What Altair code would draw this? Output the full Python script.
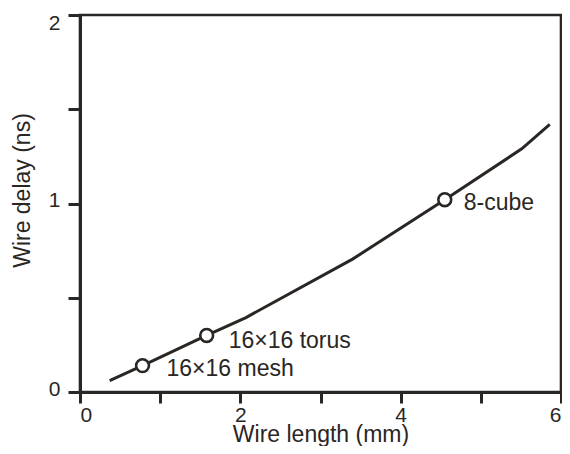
import altair as alt
import pandas as pd

# Curve: wire delay vs wire length
length_mm = [0.37, 0.78, 1.58, 2.07, 3.40, 4.55, 5.51, 5.86]
delay_ns = [0.06, 0.14, 0.30, 0.395, 0.705, 1.02, 1.29, 1.42]

# Marked networks
net_names = ["16×16 mesh", "16×16 torus", "8-cube"]
net_length = [0.78, 1.58, 4.55]
net_delay = [0.14, 0.30, 1.02]

x_ticks = [0, 1, 2, 3, 4, 5, 6]
y_ticks = [0, 0.5, 1, 1.5, 2]

INK = "#2a2624"
FONT = "Liberation Sans"

curve = pd.DataFrame({"len": length_mm, "delay": delay_ns})
nets = pd.DataFrame({"name": net_names, "len": net_length, "delay": net_delay})

x_enc = alt.X("len:Q", scale=alt.Scale(domain=[0, 6], nice=False, zero=False),
              axis=alt.Axis(title="Wire length (mm)", values=x_ticks, format="~g",
                            labelExpr="datum.value % 2 == 0 ? datum.label : ''",
                            labelFlush=True, tickSize=11, labelBaseline="alphabetic",
                            labelPadding=18, titleY=49, titleBaseline="alphabetic",
                            grid=False))
y_enc = alt.Y("delay:Q", scale=alt.Scale(domain=[0, 2], nice=False),
              axis=alt.Axis(title="Wire delay (ns)", values=y_ticks, format="~g",
                            labelExpr="datum.value % 1 == 0 ? datum.label : ''",
                            tickSize=12, labelPadding=8,
                            labelOffset={"condition": {"test": "datum.value == 2", "value": 8},
                                         "value": -3},
                            labelBaseline="middle",
                            titleX=-58, titleY=175, titleBaseline="middle",
                            titleAlign="center", grid=False))

line = alt.Chart(curve).mark_line(color=INK, strokeWidth=3).encode(x=x_enc, y=y_enc)

points = alt.Chart(nets).mark_point(shape="circle", size=165, filled=True,
                                    fill="white", stroke=INK, strokeWidth=2.6,
                                    opacity=1).encode(x="len:Q", y="delay:Q")

offsets = {"16×16 mesh": (24, 3), "16×16 torus": (22, 6), "8-cube": (19, 3)}
texts = []
for nm in net_names:
    dx, dy = offsets[nm]
    texts.append(
        alt.Chart(nets).transform_filter(alt.datum.name == nm)
        .mark_text(align="left", baseline="middle", dx=dx, dy=dy,
                   font=FONT, fontSize=23, color=INK)
        .encode(x="len:Q", y="delay:Q", text="name:N")
    )

chart = alt.layer(line, points, *texts).properties(
    width=481, height=377,
    autosize=alt.AutoSizeParams(type="none"),
    padding={"left": 72, "top": 7, "right": 1, "bottom": 54},
    background="white",
).configure_view(
    stroke=INK, strokeWidth=2.6
).configure_axis(
    domainColor=INK, domainWidth=3, tickColor=INK, tickWidth=3,
    labelColor=INK, labelFont=FONT, labelFontSize=21,
    titleColor=INK, titleFont=FONT, titleFontSize=23, titleFontWeight="normal",
)

chart.save("out.html", embed_options={"renderer": "svg", "actions": False})
